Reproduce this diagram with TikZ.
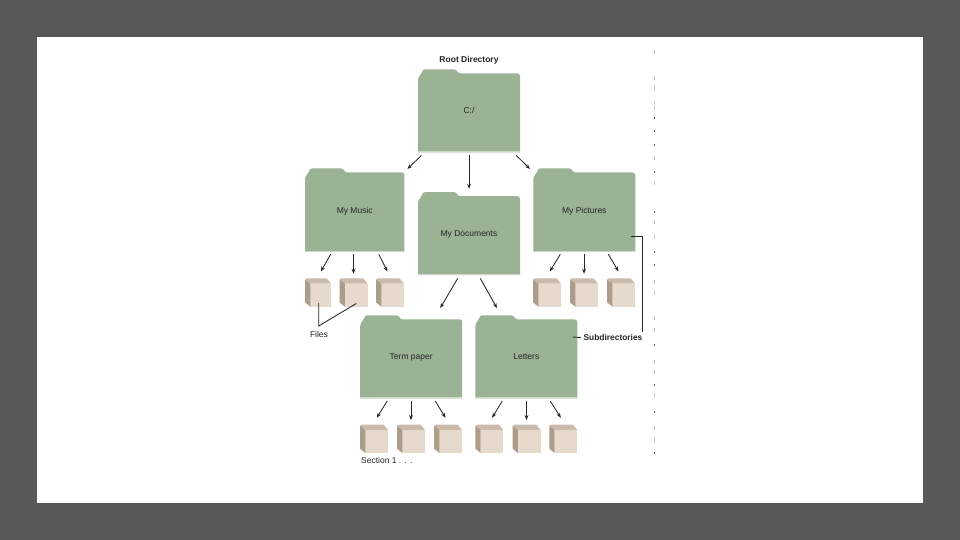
\documentclass[tikz,border=0pt]{standalone}
\usepackage{fontspec}
\setmainfont{Liberation Sans}
\usetikzlibrary{arrows.meta}
\definecolor{slidegray}{HTML}{585858}
\definecolor{foldergreen}{HTML}{9AB394}
\definecolor{folderedge}{HTML}{CBD9C7}
\definecolor{cubefront}{HTML}{E6DACD}
\definecolor{cubetop}{HTML}{CBBBAA}
\definecolor{cubeside}{HTML}{AD9C8A}
\definecolor{inkgray}{HTML}{262626}
\tikzset{
    folderbox/.style={minimum height=83pt, inner sep=0pt, text=inkgray, text height=6.5pt, text depth=0.5pt},
    cubebox/.style={minimum height=28.4pt, inner sep=0pt},
    flowarrow/.style={-{Stealth[length=5pt,width=3.8pt]}, line width=0.85pt, draw=inkgray},
    noteline/.style={line width=0.85pt, draw=inkgray},
    notelabel/.style={text=inkgray, inner sep=0pt, text height=6.5pt, text depth=0.5pt},
}
\newcommand{\folderat}[5]{
    \begin{scope}[shift={(#2,#3)}]
        \fill[foldergreen] (-#4/2,41.5) -- (-#4/2,-30.5) .. controls (-#4/2,-34.5) and (-#4/2+3,-35.5) .. (-#4/2+4,-38.5)
            .. controls (-#4/2+4.5,-40.5) and (-#4/2+5,-41.5) .. (-#4/2+7,-41.5)
            -- (-#4/2+36,-41.5) .. controls (-#4/2+39,-41.5) and (-#4/2+39.5,-37.5) .. (-#4/2+42,-37.5)
            -- (#4/2-3,-37.5) .. controls (#4/2-1,-37.5) and (#4/2,-36.5) .. (#4/2,-34.5) -- (#4/2,41.5) -- cycle;
        \draw[folderedge, line width=0.9pt] (-#4/2,41.1) -- (#4/2,41.1);
    \end{scope}
    \node[folderbox, minimum width=#4pt] (#1) at (#2,#3) {#5};
}
\newcommand{\cubeat}[4]{
    \begin{scope}[shift={(#2,#3)}]
        \fill[cubefront] (-#4/2+5.3,-8.9) rectangle (#4/2,14.2);
        \fill[cubetop] (-#4/2,-13) -- (-#4/2+2,-14.2) -- (#4/2-4.5,-14.2) -- (#4/2,-8.9) -- (-#4/2+5.3,-8.9) -- cycle;
        \fill[cubeside] (-#4/2,-13) -- (-#4/2+5.3,-8.9) -- (-#4/2+5.3,14.2) -- (-#4/2,9.8) -- cycle;
    \end{scope}
    \node[cubebox, minimum width=#4pt] (#1) at (#2,#3) {};
}
\begin{document}
\begin{tikzpicture}[x=1pt, y=-1pt, font=\fontsize{8.5}{10}\selectfont]
    \useasboundingbox (0,0) rectangle (960,540);
    \fill[slidegray] (0,0) rectangle (960,540);
    \fill[white] (37,37) rectangle (923,503);

    \foreach \y in {118,131,145,172,212,252,265,345,385,412,453}
        \fill[black!65] (654,\y-1.2) rectangle (655,\y+1.2);
    \foreach \y in {52,78,88,103,108,158,183,222,237,282,293,318,330,362,372,395,428,440}
        \fill[black!22] (654,\y-1.6) rectangle (655,\y+1.6);

    \node[notelabel, font=\fontsize{8.5}{10}\bfseries] (rootlabel) at (469,60) {Root Directory};
    \folderat{root}{469}{110.8}{102}{C:/}
    \folderat{music}{354.7}{210}{99.4}{My Music}
    \folderat{docs}{469}{233.7}{102}{My Documents}
    \folderat{pictures}{584.3}{210}{102}{My Pictures}
    \folderat{term}{411.2}{356.8}{102}{Term paper}
    \folderat{letters}{526.3}{356.8}{102}{Letters}

    \cubeat{musica}{318}{292.5}{26}
    \cubeat{musicb}{353.5}{292.5}{28}
    \cubeat{musicc}{390}{292.5}{28}
    \cubeat{picturesa}{547}{292.5}{28}
    \cubeat{picturesb}{584}{292.5}{28}
    \cubeat{picturesc}{621}{292.5}{28}
    \cubeat{terma}{374}{438.8}{28}
    \cubeat{termb}{411}{438.8}{28}
    \cubeat{termc}{448}{438.8}{28}
    \cubeat{lettersa}{489.3}{438.8}{28}
    \cubeat{lettersb}{526.5}{438.8}{28}
    \cubeat{lettersc}{563.3}{438.8}{28}

    \draw[flowarrow] ([shift={(-47.7,3)}]root.south) -- ([shift={(52.7,0.7)}]music.north);
    \draw[flowarrow] ([shift={(0,2.7)}]root.south) -- ([shift={(0,-3.2)}]docs.north);
    \draw[flowarrow] ([shift={(47.3,3)}]root.south) -- ([shift={(-54.3,0.7)}]pictures.north);
    \draw[flowarrow] ([shift={(-11.3,3)}]docs.south) -- ([shift={(29,-7)}]term.north);
    \draw[flowarrow] ([shift={(11.3,3)}]docs.south) -- ([shift={(-29.3,-7)}]letters.north);
    \foreach \parent in {music,pictures,term,letters} {
        \draw[flowarrow] ([shift={(-24,2.5)}]\parent.south) -- ([shift={(2.8,-6.6)}]\parent a.north);
        \draw[flowarrow] ([shift={(0,2.5)}]\parent b.north |- \parent.south) -- ([shift={(0,-4.3)}]\parent b.north);
        \draw[flowarrow] ([shift={(24,2.5)}]\parent.south) -- ([shift={(-2.5,-6.6)}]\parent c.north);
    }

    \node[notelabel] (fileslabel) at (319,334.7) {Files};
    \coordinate (filesjoin) at (318.7,326);
    \draw[noteline] ([shift={(0.7,-4)}]musica.south) -- (filesjoin) -- ([shift={(2.8,-3.4)}]musicb.south);

    \node[notelabel, font=\fontsize{8.4}{10}\bfseries] (subdirlabel) at (613,337.7) {Subdirectories};
    \coordinate (subdirtop) at (642.5,236.5);
    \draw[noteline] ([shift={(-5,26.5)}]pictures.east) -- (subdirtop) -- (642.5,332.3);
    \draw[noteline, shorten >=2.5pt] ([shift={(-4.6,-19.8)}]letters.east) -- (subdirlabel.west);

    \node[notelabel, anchor=west] (sectionlabel) at (361,460) {Section 1 . . .};
\end{tikzpicture}
\end{document}
